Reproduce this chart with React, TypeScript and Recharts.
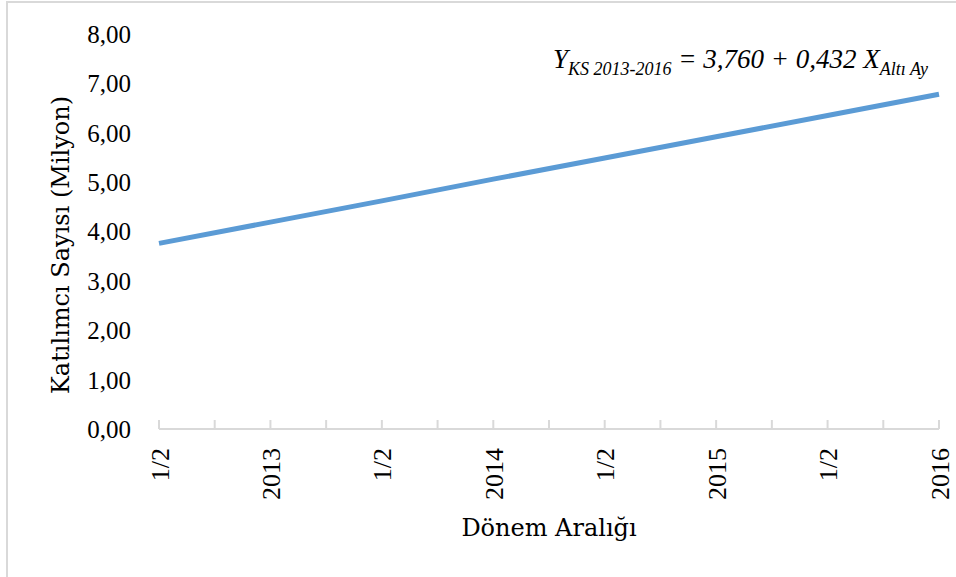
import React from 'react';
import { LineChart, Line, XAxis, YAxis } from 'recharts';

// Category labels (half-year periods)
const periodLabels = ['1/2', '2013', '1/2', '2014', '1/2', '2015', '1/2', '2016'];
// Participant count (millions)
const participantValues = [3.76, 4.19, 4.62, 5.06, 5.49, 5.92, 6.35, 6.78];
// Axis ticks
const yTicks = [0, 1, 2, 3, 4, 5, 6, 7, 8];
const xTicks = [0, 0.5, 1, 1.5, 2, 2.5, 3, 3.5, 4, 4.5, 5, 5.5, 6, 6.5, 7];

const data = periodLabels.map((label, i) => ({ idx: i, label, value: participantValues[i] }));

const GRID = '#d9d9d9';
const SERIF_PAL = '"DejaVu Serif", serif';
const SERIF_TIMES = '"Liberation Serif", serif';

const XTick = (props: any) => {
  const { x, y, payload } = props;
  const v = payload.value as number;
  const isCat = Number.isInteger(v);
  return (
    <g>
      <line x1={x} x2={x} y1={y - 9} y2={y} stroke={GRID} strokeWidth={2} />
      {isCat && (
        <text
          x={0}
          y={0}
          transform={`translate(${x + 1},${y + 19}) rotate(-90)`}
          textAnchor="end"
          dominantBaseline="central"
          fontFamily={SERIF_TIMES}
          fontSize={26}
          fill="#000"
        >
          {periodLabels[v]}
        </text>
      )}
    </g>
  );
};

const XTitle = (props: any) => {
  const vb = props.viewBox || {};
  return (
    <text
      x={vb.x + vb.width / 2}
      y={vb.y + 107}
      textAnchor="middle"
      fontFamily={SERIF_PAL}
      fontSize={24}
      fill="#000"
    >
      Dönem Aralığı
    </text>
  );
};

const YTitle = () => (
  <text
    x={0}
    y={0}
    transform={`translate(69,245) rotate(-90)`}
    textAnchor="middle"
    fontFamily={SERIF_PAL}
    fontSize={24}
    fill="#000"
  >
    Katılımcı Sayısı (Milyon)
  </text>
);

const Equation = () => (
  <text x={553} y={68} fontFamily={SERIF_TIMES} fontStyle="italic" fill="#000">
    <tspan fontSize={27}>Y</tspan>
    <tspan fontSize={18} dy={7}>KS 2013-2016</tspan>
    <tspan fontSize={27} dy={-7}> = 3,760 + 0,432 X</tspan>
    <tspan fontSize={18} dy={7}>Altı Ay</tspan>
  </text>
);

export default function App() {
  return (
    <div style={{ position: 'absolute', left: 0, top: 0, width: 956, height: 577, overflow: 'hidden', background: '#fff' }}>
      <div
        style={{
          position: 'absolute',
          left: 6,
          top: 1,
          width: 1000,
          height: 700,
          borderLeft: `2px solid ${GRID}`,
          borderTop: `2px solid ${GRID}`,
        }}
      />
      <div style={{ position: 'absolute', left: 0, top: 0 }}>
        <LineChart width={956} height={577} data={data} margin={{ top: 34, right: 17, bottom: 0, left: 0 }}>
          <XAxis
            dataKey="idx"
            type="number"
            domain={[0, 7]}
            ticks={xTicks}
            interval={0}
            height={148}
            axisLine={{ stroke: GRID, strokeWidth: 2 }}
            tickLine={false}
            tickSize={0}
            tickMargin={0}
            tick={<XTick />}
            label={<XTitle />}
          />
          <YAxis
            type="number"
            domain={[0, 8]}
            ticks={yTicks}
            width={159}
            axisLine={false}
            tickLine={false}
            tickSize={0}
            tickMargin={28}
            tickFormatter={(v: number) => v.toFixed(2).replace('.', ',')}
            tick={{ fontFamily: SERIF_TIMES, fontSize: 25, fill: '#000' }}
            label={<YTitle />}
          />
          <Line
            type="linear"
            dataKey="value"
            stroke="#5B9BD5"
            strokeWidth={5}
            dot={false}
            activeDot={false}
            isAnimationActive={false}
          />
          <Equation />
        </LineChart>
      </div>
    </div>
  );
}
